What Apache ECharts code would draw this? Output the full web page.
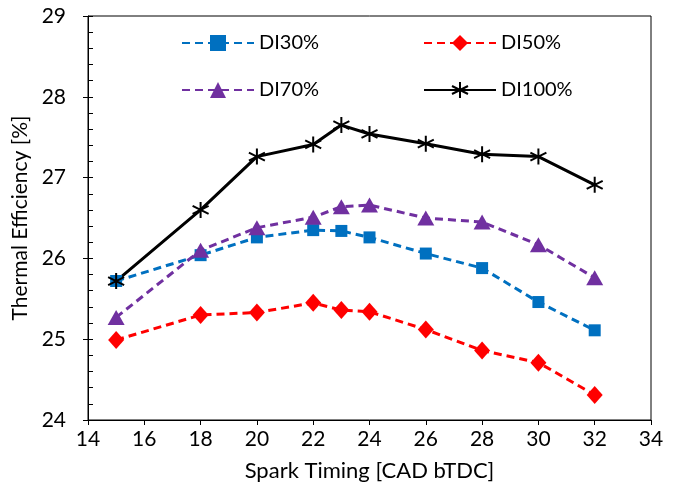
<!DOCTYPE html>
<html>
<head>
<meta charset="utf-8">
<script src="https://cdn.jsdelivr.net/npm/echarts@6/dist/echarts.min.js"></script>
<style>html,body{margin:0;padding:0;background:#fff}#c{width:680px;height:496px}</style>
</head>
<body>
<div id="c"></div>
<script>
var sparkTiming = [15, 18, 20, 22, 23, 24, 26, 28, 30, 32];
var di30 = [25.72, 26.04, 26.26, 26.35, 26.34, 26.26, 26.06, 25.88, 25.46, 25.11];
var di50 = [24.99, 25.30, 25.33, 25.45, 25.36, 25.34, 25.12, 24.86, 24.71, 24.31];
var di70 = [25.27, 26.10, 26.38, 26.51, 26.64, 26.66, 26.50, 26.45, 26.17, 25.76];
var di100 = [25.72, 26.60, 27.26, 27.41, 27.65, 27.54, 27.42, 27.29, 27.26, 26.91];
var seriesNames = ['DI30%', 'DI50%', 'DI70%', 'DI100%'];

function pairs(arr) { return sparkTiming.map(function (x, i) { return [x, arr[i]]; }); }

var font = 'Lato, "Open Sans", sans-serif';
var chart = echarts.init(document.getElementById('c'), null, { renderer: 'canvas' });
var star = 'path://M0,-10L0,10M-8.66,-5L8.66,5M-8.66,5L8.66,-5';

var legendBase = function (name, left, top) {
  return {
    data: [name], left: left, top: top, itemWidth: 72, itemHeight: 20, itemGap: 8,
    textStyle: { fontFamily: font, fontSize: 20, color: '#000' }
  };
};

chart.setOption({
  animation: false,
  backgroundColor: '#fff',
  legend: [
    legendBase('DI30%', 176, 28),
    legendBase('DI50%', 418, 28),
    legendBase('DI70%', 176, 75),
    legendBase('DI100%', 418, 75)
  ],
  grid: { left: 88, right: 29, top: 16, bottom: 76, show: true, borderColor: '#000', borderWidth: 1 },
  xAxis: {
    type: 'value', min: 14, max: 34, interval: 2,
    name: 'Spark Timing [CAD bTDC]', nameLocation: 'middle', nameGap: 40,
    nameTextStyle: { fontFamily: font, fontSize: 22, color: '#000' },
    axisLine: { lineStyle: { color: '#000', width: 1 } },
    axisTick: { show: true, length: 5, lineStyle: { color: '#000' } },
    axisLabel: { fontFamily: font, fontSize: 21, color: '#000', margin: 9 },
    splitLine: { show: false }
  },
  yAxis: [{
    type: 'value', min: 24, max: 29, interval: 1,
    name: 'Thermal Efficiency [%]', nameLocation: 'middle', nameGap: 49,
    nameTextStyle: { fontFamily: font, fontSize: 21, color: '#000' },
    axisLine: { show: true, lineStyle: { color: '#000', width: 1 } },
    axisTick: { show: true, inside: true, length: 5, lineStyle: { color: '#000' } },
    minorTick: { show: true, splitNumber: 5, length: 5, lineStyle: { color: '#000' } },
    axisLabel: { fontFamily: font, fontSize: 21, color: '#000', margin: 22 },
    splitLine: { show: false }
  }, {
    type: 'value', min: 24, max: 29, interval: 1, position: 'left',
    axisLine: { show: false },
    axisTick: { show: true, inside: false, length: 5, lineStyle: { color: '#000' } },
    axisLabel: { show: false },
    splitLine: { show: false }
  }],
  series: [
    {
      name: 'DI30%', type: 'line', data: pairs(di30),
      symbol: 'rect', symbolSize: 12,
      lineStyle: { color: '#0070C0', width: 3, type: [8, 5] },
      itemStyle: { color: '#0070C0' }
    },
    {
      name: 'DI50%', type: 'line', data: pairs(di50),
      symbol: 'diamond', symbolSize: [16, 18],
      lineStyle: { color: '#FF0000', width: 3, type: [8, 5] },
      itemStyle: { color: '#FF0000' }
    },
    {
      name: 'DI70%', type: 'line', data: pairs(di70),
      symbol: 'triangle', symbolSize: [17, 15],
      lineStyle: { color: '#7030A0', width: 3, type: [8, 5] },
      itemStyle: { color: '#7030A0' }
    },
    {
      name: 'DI100%', type: 'line', data: pairs(di100),
      symbol: star, symbolSize: 16,
      lineStyle: { color: '#000', width: 3 },
      itemStyle: { color: '#000', borderColor: '#000', borderWidth: 2 }
    }
  ]
});
</script>
</body>
</html>
